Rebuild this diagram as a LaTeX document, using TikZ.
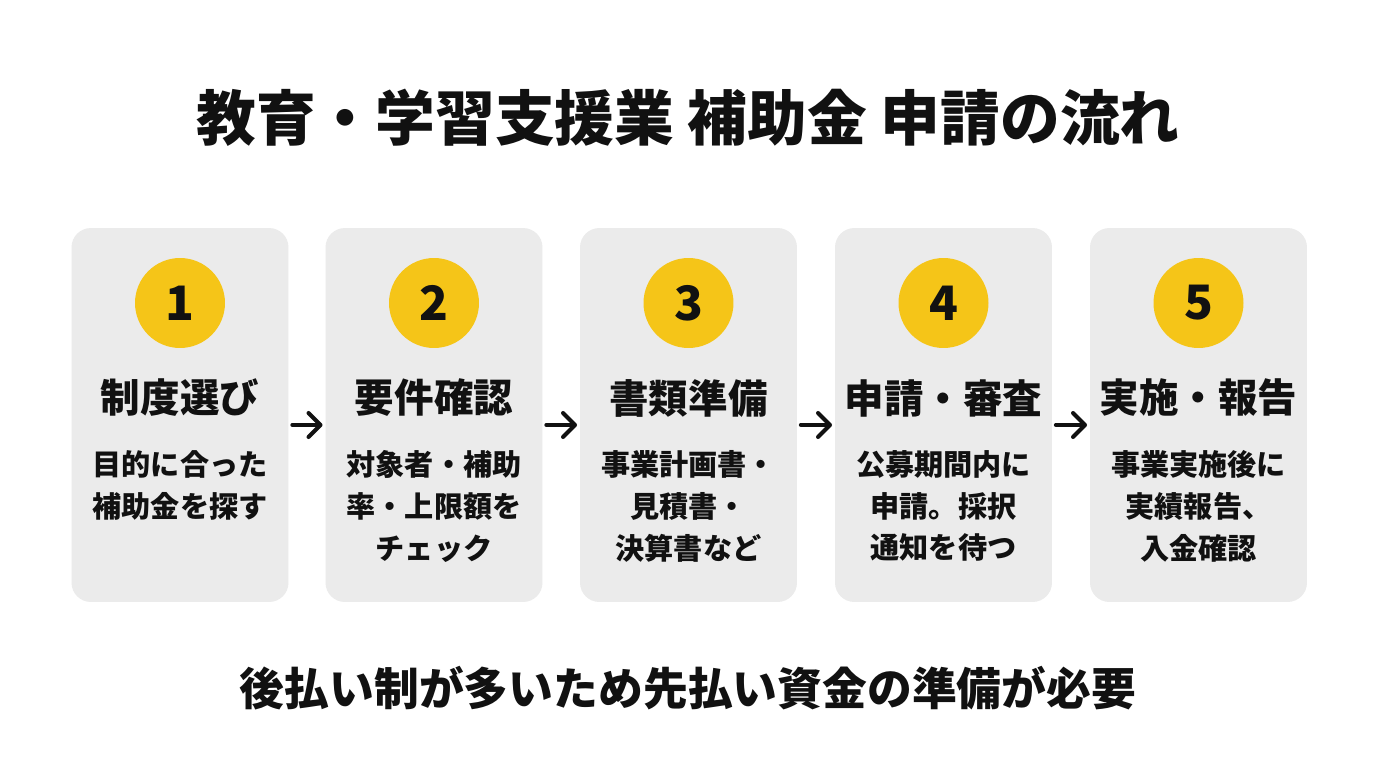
\documentclass[tikz,border=0pt]{standalone}
\usepackage{fontspec}
\setmainfont{Noto Sans CJK JP}
\usepackage{tikz}
\usetikzlibrary{arrows.meta, positioning}
\definecolor{boxgray}{RGB}{235,235,235}
\definecolor{numyellow}{RGB}{245,197,24}
\definecolor{inkblack}{RGB}{17,17,17}

\begin{document}
\begin{tikzpicture}[
  x=0.02cm, y=-0.02cm,
  box/.style={rectangle, fill=boxgray, rounded corners=11pt,
              minimum width=4.34cm, minimum height=7.48cm, inner sep=0pt},
  num/.style={circle, fill=numyellow, minimum size=1.8cm, inner sep=0pt,
              font=\fontsize{27}{30}\selectfont\bfseries, text=inkblack},
  head/.style={font=\fontsize{22.5}{26}\selectfont\bfseries, text=inkblack, inner sep=0pt},
  desc/.style={font=\fontsize{16.6}{23.8}\selectfont\bfseries, text=inkblack,
               align=center, anchor=north, inner sep=0pt},
  arr/.style={-{Straight Barb[length=2.4mm, width=4.8mm, line cap=round, line join=round]},
              line width=2.3pt, line cap=round, inkblack,
              shorten <=2pt, shorten >=1.5pt},
]
  \useasboundingbox[fill=white] (0,0) rectangle (1376,768);

  \node[font=\fontsize{34}{38}\selectfont\bfseries, text=inkblack] (title) at (688,118)
    {教育・学習支援業 補助金 申請の流れ};

  % Steps
  \node[box] (step1) at (180,415) {};
  \node[box] (step2) at (434,415) {};
  \node[box] (step3) at (688.5,415) {};
  \node[box] (step4) at (943.5,415) {};
  \node[box] (step5) at (1198.5,415) {};

  \node[num] (num1) at (180,303) {1};
  \node[num] (num2) at (434,303) {2};
  \node[num] (num3) at (688.5,303) {3};
  \node[num] (num4) at (943.5,303) {4};
  \node[num] (num5) at (1198.5,303) {5};

  \node[head] (head1) at (180,398) {制度選び};
  \node[head] (head2) at (434,398) {要件確認};
  \node[head] (head3) at (688.5,398) {書類準備};
  \node[head] (head4) at (943.5,398) {申請・審査};
  \node[head] (head5) at (1198.5,398) {実施・報告};

  \node[desc] (desc1) at (180,450) {目的に合った\\補助金を探す};
  \node[desc] (desc2) at (434,450) {対象者・補助\\率・上限額を\\チェック};
  \node[desc] (desc3) at (688.5,450) {事業計画書・\\見積書・\\決算書など};
  \node[desc] (desc4) at (943.5,450) {公募期間内に\\申請。採択\\通知を待つ};
  \node[desc] (desc5) at (1198.5,450) {事業実施後に\\実績報告、\\入金確認};

  \draw[arr] ([yshift=-0.2cm]step1.east) -- ([yshift=-0.2cm]step2.west);
  \draw[arr] ([yshift=-0.2cm]step2.east) -- ([yshift=-0.2cm]step3.west);
  \draw[arr] ([yshift=-0.2cm]step3.east) -- ([yshift=-0.2cm]step4.west);
  \draw[arr] ([yshift=-0.2cm]step4.east) -- ([yshift=-0.2cm]step5.west);

  \node[font=\fontsize{25.5}{30}\selectfont\bfseries, text=inkblack] (note) at (688,688)
    {後払い制が多いため先払い資金の準備が必要};
\end{tikzpicture}
\end{document}
